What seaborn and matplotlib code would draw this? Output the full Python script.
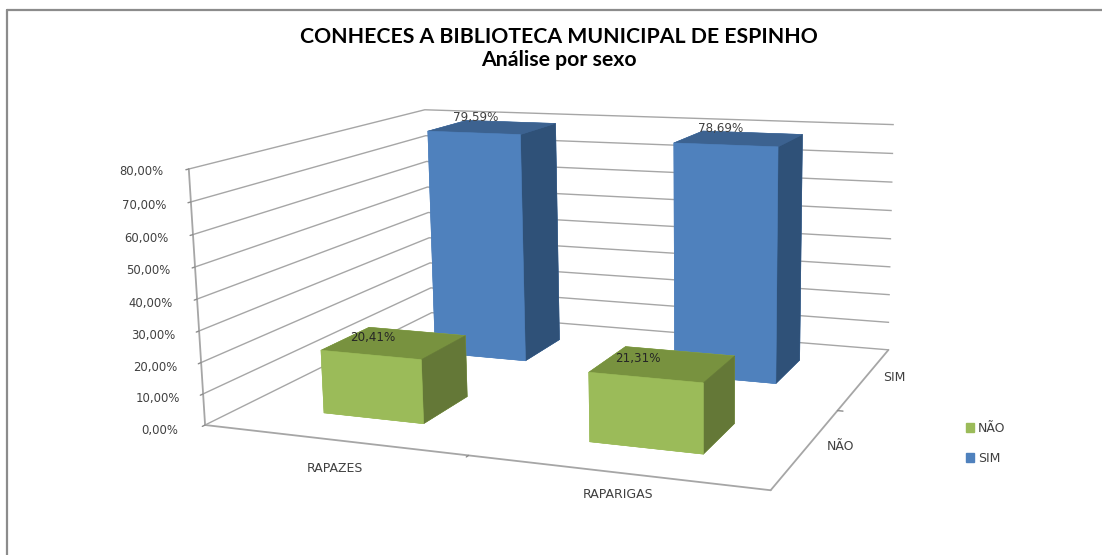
import numpy as np
import matplotlib
matplotlib.use("Agg")
import matplotlib.pyplot as plt
import seaborn as sns
from matplotlib.patches import Patch
from matplotlib.lines import Line2D
from mpl_toolkits.mplot3d import proj3d

# data
groups = ["RAPAZES", "RAPARIGAS"]
answers = ["NÃO", "SIM"]
nao_values = [20.41, 21.31]
sim_values = [79.59, 78.69]
nao_labels = ["20,41%", "21,31%"]
sim_labels = ["79,59%", "78,69%"]
z_ticks = [0, 10, 20, 30, 40, 50, 60, 70, 80]

sns.set_theme(style="white")
plt.rcParams["font.family"] = ["DejaVu Sans"]

GRID = "#a6a6a6"
TEXT = "#404040"
nao_cols = ["#9BBB59", "#78923F", "#9BBB59", "#9BBB59", "#9BBB59", "#647837"]
sim_cols = ["#4F81BD", "#3C6290", "#4F81BD", "#4F81BD", "#4F81BD", "#2F5178"]

fig = plt.figure(figsize=(11.02, 5.55), dpi=100)
ax = fig.add_axes([9.1 / 1102, 3.1 / 555, 1, 1], projection="3d", computed_zorder=False)
ax.patch.set_alpha(0)

ax.set_xlim(0, 2, view_margin=0)
ax.set_ylim(0, 2, view_margin=0)
ax.set_zlim(0, 80, view_margin=0)
ax.set_box_aspect((1.0, 0.867, 0.444), zoom=1.347)
ax.view_init(elev=11.949, azim=-67.721, roll=0.967)
ax.set_proj_type("persp", focal_length=0.562)

for axis in [ax.xaxis, ax.yaxis, ax.zaxis]:
    axis.set_pane_color((1, 1, 1, 0))
    axis.pane.set_edgecolor((1, 1, 1, 0))
    axis.line.set_color(GRID)
    axis.line.set_linewidth(1.3)
    axis._axinfo["tick"]["inward_factor"] = 0.12
    axis._axinfo["tick"]["outward_factor"] = 0
    axis._axinfo["tick"]["linewidth"] = {True: 1.0, False: 0.5}
ax.tick_params(color="#8c8c8c")
ax.xaxis._axinfo["grid"]["linewidth"] = 0
ax.yaxis._axinfo["grid"]["linewidth"] = 0
ax.zaxis._axinfo["grid"].update(color=GRID, linewidth=1.0)

ax.set_xticks([1])
ax.set_xticklabels([])
ax.set_yticks([1])
ax.set_yticklabels([])
ax.set_zticks(z_ticks)
ax.set_zticklabels([f"{t:.2f}%".replace(".", ",") for t in z_ticks], fontsize=8.4, color=TEXT,
                   va="center")
ax.zaxis.set_ticks_position("lower")
ax.tick_params(axis="z", pad=4)


def label3d(x, y, z, text, **kw):
    # plain 2D text at the projected position of a 3D data point
    px, py, _ = proj3d.proj_transform(x, y, z, ax.get_proj())
    ax.text2D(px, py, text, transform=ax.transData, ha="center", va="center", **kw)


bar_w = 0.39
bar_d = 0.40
for i in range(2):
    ax.bar3d(i + 0.515 - bar_w / 2, 1.5 - bar_d / 2, 0, bar_w, bar_d, sim_values[i],
             color=sim_cols, edgecolor=sim_cols, linewidth=0.4, shade=False, zorder=3)
    label3d(i + 0.445, 1.5, sim_values[i] + 3.2, sim_labels[i], fontsize=8.6, color=TEXT, zorder=6)
for i in range(2):
    ax.bar3d(i + 0.512 - bar_w / 2, 0.5 - bar_d / 2, 0, bar_w, bar_d, nao_values[i],
             color=nao_cols, edgecolor=nao_cols, linewidth=0.4, shade=False, zorder=4)
    label3d(i + 0.425, 0.5, nao_values[i] + 1, nao_labels[i], fontsize=8.6, color="#262626", zorder=6)

# category labels sit between the axis ticks
label3d(0.658, -0.30, 0, groups[0], fontsize=9, color=TEXT)
label3d(1.585, -0.22, 0, groups[1], fontsize=9, color=TEXT)
for j, name in enumerate(answers):
    label3d(2.1, j + 0.55, 0, name, fontsize=9, color=TEXT)

fig.text(0.507, 0.934, "CONHECES A BIBLIOTECA MUNICIPAL DE ESPINHO", family="Lato",
         fontsize=15.3, fontweight="bold", color="black", ha="center", va="center")
fig.text(0.507, 0.892, "Análise por sexo", family="Lato",
         fontsize=15.3, fontweight="bold", color="black", ha="center", va="center")

handles = [Patch(color=nao_cols[0], label=answers[0]), Patch(color=sim_cols[0], label=answers[1])]
fig.legend(handles=handles, loc="center left", bbox_to_anchor=(0.866, 0.201), frameon=False,
           handlelength=0.7, handleheight=0.7, handletextpad=0.3, labelspacing=1.35,
           fontsize=9, labelcolor=TEXT)

# chart frame, only top and left survive in the screenshot
fig.add_artist(Line2D([7 / 1102, 7 / 1102], [0, 1 - 10 / 555], color="#8c8c8c", lw=1.6))
fig.add_artist(Line2D([7 / 1102, 1], [1 - 10 / 555, 1 - 10 / 555], color="#8c8c8c", lw=1.6))

fig.savefig("out.png", dpi=100)
